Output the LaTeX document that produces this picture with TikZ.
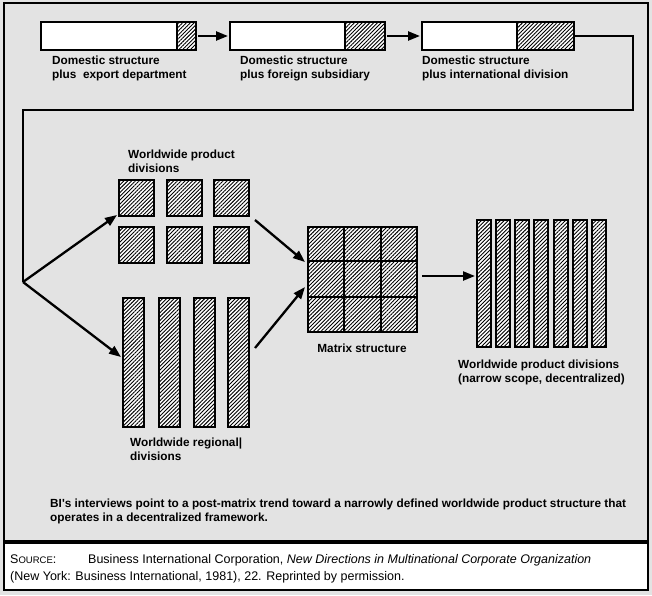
\documentclass[tikz,border=0pt]{standalone}
\usepackage{fontspec}
\setmainfont[Ligatures=NoCommon]{Liberation Sans}
\usetikzlibrary{patterns.meta,arrows.meta}
\begin{document}
\begin{tikzpicture}[x=1pt,y=-1pt,
  hatchbox/.style={draw=black,line width=1.4pt,preaction={fill=white},
    pattern={Lines[angle=45,distance=2.7pt,line width=0.9pt]},
    inner sep=0pt,outer sep=0pt,anchor=north west},
  plainbox/.style={draw=black,line width=1.3pt,fill=white,inner sep=0pt,outer sep=0pt,anchor=north west},
  lbl/.style={inner sep=0pt,anchor=north west,align=left,font=\bfseries\fontsize{11.8}{14}\selectfont},
  conn/.style={line width=2.3pt,line join=miter},
  arr/.style={line width=2.3pt,-{Triangle[length=12pt,width=9pt]}},
]
\useasboundingbox (0,0) rectangle (652,595);
\fill[black!11] (0,0) rectangle (652,595);
% frames
\draw[line width=1.5pt] (4,3) rectangle (648,541);
\draw[line width=1.3pt,fill=white] (4,543) rectangle (648,590);

% top row
\node[plainbox,minimum width=155pt,minimum height=28pt] (b1) at (41,22) {};
\node[hatchbox,minimum width=19pt,minimum height=28pt] (h1) at (177,22) {};
\node[plainbox,minimum width=155pt,minimum height=28pt] (b2) at (230,22) {};
\node[hatchbox,minimum width=40pt,minimum height=28pt] (h2) at (345,22) {};
\node[plainbox,minimum width=152pt,minimum height=28pt] (b3) at (422,22) {};
\node[hatchbox,minimum width=57pt,minimum height=28pt] (h3) at (517,22) {};
\draw[arr] (b1.east) ++(2,0) -- ([xshift=-2pt]b2.west);
\draw[arr] (b2.east) ++(2,0) -- ([xshift=-2pt]b3.west);

\node[lbl] (l1) at (52,56) {Domestic structure\\plus\ \ export department};
\node[lbl] (l2) at (240,56) {Domestic structure\\plus\ foreign subsidiary};
\node[lbl] (l3) at (422,56) {Domestic structure\\plus international division};

% loop connector
\coordinate (branch) at (23,282);
\draw[conn] (b3.east) -- (633,36) -- (633,110) -- (23,110) -- (branch);

% product squares
\foreach \i/\x in {1/119,2/167,3/214}{
  \node[hatchbox,minimum width=35pt,minimum height=36pt] (pa\i) at (\x,180) {};
  \node[hatchbox,minimum width=35pt,minimum height=36pt] (pb\i) at (\x,227) {};
}
\node[lbl] (lp) at (128,150) {Worldwide product\\divisions};

% regional bars
\foreach \i/\x in {1/123,2/159,3/194,4/228}{
  \node[hatchbox,minimum width=21pt,minimum height=129pt] (r\i) at (\x,298) {};
}
\node[lbl] (lr) at (130,438) {Worldwide regional|\\divisions};

% arrows from branch
\coordinate (pin) at (117,215);
\coordinate (rin) at (121,357);
\draw[arr] (branch) -- (pin);
\draw[arr] (branch) -- (rin);

% matrix
\node[hatchbox,minimum width=109pt,minimum height=105pt] (m) at (308,227) {};
\draw[line width=1.4pt] (344,227) -- (344,332) (381,227) -- (381,332)
  (308,261) -- (417,261) (308,297) -- (417,297);
\node[font=\bfseries\fontsize{11.8}{14}\selectfont,inner sep=0pt] (lm) at (362,348) {Matrix structure};

\coordinate (pout) at (255,220);
\coordinate (rout) at (255,348);
\coordinate (min1) at (305,262);
\coordinate (min2) at (305,287);
\draw[arr] (pout) -- (min1);
\draw[arr] (rout) -- (min2);

% narrow bars
\foreach \i/\x in {1/477,2/496,3/515,4/534,5/554,6/573,7/592}{
  \node[hatchbox,minimum width=14pt,minimum height=127pt] (n\i) at (\x,220) {};
}
\node[lbl] (ln) at (458,360) {Worldwide product divisions\\(narrow scope, decentralized)};
\coordinate (mout) at (422,276);
\draw[arr] (mout) -- ([xshift=-2pt]mout -| n1.west);

% caption
\node[lbl] (cap) at (50,499) {BI\textquotesingle s interviews point to a post-matrix trend toward a narrowly defined worldwide product structure that\\operates in a decentralized framework.};

% source
\node[inner sep=0pt,anchor=north west,align=left,font=\fontsize{12.5}{17}\selectfont] (src) at (10,554)
 {\makebox[78pt][l]{S{\fontsize{9.5}{10}\selectfont OURCE}:}Business International Corporation, \textit{New Directions in Multinational Corporate Organization}\\(New York: Business International, 1981), 22. Reprinted by permission.};
\end{tikzpicture}
\end{document}
